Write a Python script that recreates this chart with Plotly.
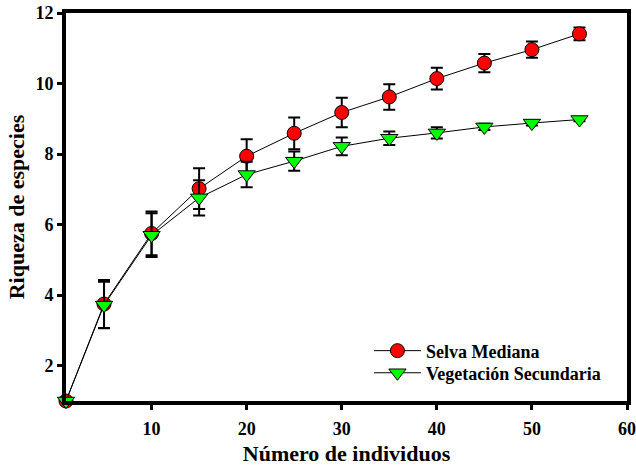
import plotly.graph_objects as go

x_vals = [1, 5, 10, 15, 20, 25, 30, 35, 40, 45, 50, 55]

selva_y = [1.0, 3.75, 5.75, 7.02, 7.94, 8.59, 9.18, 9.62, 10.14, 10.58, 10.96, 11.41]
selva_err = [0.0, 0.68, 0.62, 0.58, 0.48, 0.45, 0.42, 0.36, 0.31, 0.26, 0.23, 0.18]

veg_y = [1.0, 3.72, 5.70, 6.76, 7.42, 7.80, 8.22, 8.45, 8.60, 8.77, 8.88, 8.98]
veg_err = [0.0, 0.66, 0.62, 0.50, 0.36, 0.27, 0.25, 0.19, 0.16, 0.09, 0.07, 0.05]

x_ticks = [10, 20, 30, 40, 50, 60]
y_ticks = [2, 4, 6, 8, 10, 12]

FONT = "Liberation Serif, Times New Roman, serif"

fig = go.Figure()
fig.add_trace(go.Scatter(
    x=x_vals, y=selva_y, name="Selva Mediana", mode="lines+markers",
    line=dict(color="black", width=1), cliponaxis=False, legend="legend",
    marker=dict(symbol="circle", size=14, color="#ff0000", line=dict(color="black", width=1)),
    error_y=dict(type="data", array=selva_err, visible=True, color="black", thickness=2, width=6),
))
fig.add_trace(go.Scatter(
    x=x_vals, y=veg_y, name="Vegetación Secundaria", mode="lines+markers",
    line=dict(color="black", width=1), cliponaxis=False, legend="legend2",
    marker=dict(symbol="triangle-down", size=15, color="#00ff00", line=dict(color="black", width=1)),
    error_y=dict(type="data", array=veg_err, visible=True, color="black", thickness=2, width=6),
))

legend_common = dict(
    xanchor="left", yanchor="middle",
    bgcolor="rgba(0,0,0,0)", borderwidth=0,
    font=dict(family=FONT, size=18, color="black", weight="bold"),
    itemwidth=47,
)

fig.update_layout(
    width=636, height=466,
    margin=dict(l=66, r=9, t=13, b=65, autoexpand=False),
    paper_bgcolor="white", plot_bgcolor="white",
    font=dict(family=FONT, color="black"),
    showlegend=True,
    legend=dict(x=0.540, y=0.129, **legend_common),
    legend2=dict(x=0.540, y=0.072, **legend_common),
    xaxis=dict(
        range=[1, 60], tickvals=x_ticks, ticks="outside", ticklen=5, tickwidth=3,
        tickcolor="black", showline=True, linewidth=4, linecolor="black", mirror=True,
        showgrid=False, zeroline=False, automargin=False, ticklabelstandoff=3,
        tickfont=dict(family=FONT, size=18, weight="bold"),
        title=dict(text="Número de individuos", font=dict(family=FONT, size=22, weight="bold"), standoff=11),
    ),
    yaxis=dict(
        range=[1, 12], tickvals=y_ticks, ticks="outside", ticklen=5, tickwidth=3,
        tickcolor="black", showline=True, linewidth=4, linecolor="black", mirror=True,
        showgrid=False, zeroline=False, automargin=False,
        tickfont=dict(family=FONT, size=18, weight="bold"),
        title=dict(text="Riqueza de especies", font=dict(family=FONT, size=22, weight="bold"), standoff=6),
    ),
)

fig.write_html(
    "out.html",
    config={"displayModeBar": False},
    post_script="document.body.style.margin='0';document.body.style.overflow='hidden';",
)
